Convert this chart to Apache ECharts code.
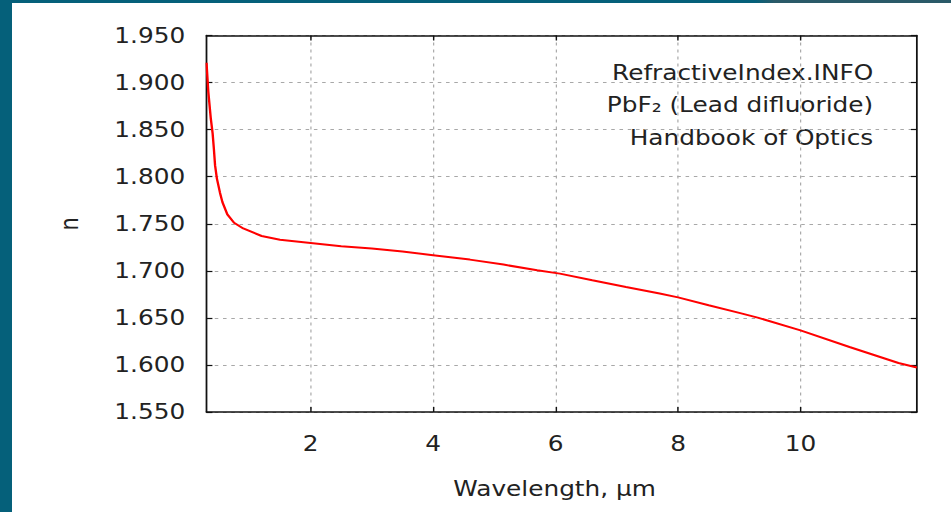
<!DOCTYPE html>
<html>
<head>
<meta charset="utf-8">
<script src="https://cdn.jsdelivr.net/npm/echarts@6/dist/echarts.min.js"></script>
<style>
html,body{margin:0;padding:0;background:#fff;overflow:hidden;width:951px;height:512px;}
#frameLeft{position:absolute;left:0;top:0;width:12px;height:512px;background:#05607a;z-index:3;}
#frameTop{position:absolute;left:0;top:0;width:951px;height:3px;z-index:3;
  background:linear-gradient(to right,#05607a 0,#05607a 755px,#2a5a68 775px,#2a5a68 100%);}
#chart{position:absolute;left:0;top:0;width:806px;height:512px;transform:scaleX(1.18);transform-origin:0 0;}
</style>
</head>
<body>
<div id="frameLeft"></div>
<div id="frameTop"></div>
<div id="chart"></div>
<script>
// Wavelength (µm) and refractive index n
const wavelength = [0.30, 0.33, 0.37, 0.40, 0.42, 0.44, 0.47, 0.52, 0.56, 0.64, 0.75, 0.90, 1.2, 1.5, 2.0, 2.5, 3.0, 3.5, 4.0, 4.6, 5.15, 5.7, 6.07, 6.6, 7.15, 7.7, 8.0, 8.5, 9.0, 9.3, 10.0, 10.8, 11.6, 11.9];
const nValues   = [1.921, 1.890, 1.862, 1.846, 1.830, 1.812, 1.798, 1.783, 1.773, 1.760, 1.751, 1.745, 1.737, 1.733, 1.7296, 1.7260, 1.7236, 1.7205, 1.7166, 1.7119, 1.7066, 1.7005, 1.6970, 1.6899, 1.6828, 1.6758, 1.6718, 1.6634, 1.6553, 1.6503, 1.6367, 1.6191, 1.6021, 1.5972];
const xTicks = [2, 4, 6, 8, 10];
const yMin = 1.55, yMax = 1.95, yStep = 0.05;
const xMin = 0.3, xMax = 11.9;
const annotation = ['RefractiveIndex.INFO', 'PbF\u2082 (Lead difluoride)', 'Handbook of Optics'];
const xName = 'Wavelength, \u00b5m';
const yName = 'n';

const FONT = 'DejaVu Sans';
const chart = echarts.init(document.getElementById('chart'), null, {renderer: 'svg'});
const seriesData = wavelength.map((w, i) => [w, nValues[i]]);
const axisLineStyle = {show: true, onZero: false, lineStyle: {color: '#111', width: 1.5}};
const gridLine = {show: true, lineStyle: {color: '#a8a8a8', width: 1, type: [3, 4]}};

chart.setOption({
  animation: false,
  backgroundColor: 'transparent',
  grid: {left: 175, right: 29, top: 35.5, bottom: 100, containLabel: false},
  xAxis: [{
    type: 'value', min: xMin, max: xMax, position: 'bottom',
    axisLine: axisLineStyle,
    axisTick: {show: true, inside: true, length: 5, customValues: xTicks, lineStyle: {color: '#111', width: 1.2}},
    axisLabel: {show: true, customValues: xTicks, margin: 21, color: '#222', fontFamily: FONT, fontSize: 21},
    splitLine: gridLine,
    name: xName, nameLocation: 'middle', nameGap: 66,
    nameTextStyle: {color: '#222', fontFamily: FONT, fontSize: 21, padding: [0, 12, 0, 0]}
  }, {
    type: 'value', min: xMin, max: xMax, position: 'top',
    axisLine: axisLineStyle,
    axisTick: {show: true, inside: true, length: 5, customValues: xTicks, lineStyle: {color: '#111', width: 1.2}},
    axisLabel: {show: false},
    splitLine: {show: false}
  }],
  yAxis: [{
    type: 'value', min: yMin, max: yMax, interval: yStep, position: 'left',
    axisLine: axisLineStyle,
    axisTick: {show: true, inside: true, length: 5, lineStyle: {color: '#111', width: 1.2}},
    axisLabel: {margin: 18, color: '#222', fontFamily: FONT, fontSize: 21, formatter: v => v.toFixed(3)},
    splitLine: gridLine,
    name: yName, nameLocation: 'middle', nameGap: 106, nameRotate: 90,
    nameTextStyle: {color: '#222', fontFamily: FONT, fontSize: 21}
  }, {
    type: 'value', min: yMin, max: yMax, interval: yStep, position: 'right',
    axisLine: axisLineStyle,
    axisTick: {show: true, inside: true, length: 5, lineStyle: {color: '#111', width: 1.2}},
    axisLabel: {show: false},
    splitLine: {show: false}
  }],
  graphic: annotation.map((t, i) => ({
    type: 'text', right: 806 - 740, top: 62 + i * 32.5,
    style: {text: t, fill: '#222', font: '21px "DejaVu Sans"', textAlign: 'right'}
  })),
  series: [{
    type: 'line', xAxisIndex: 0, yAxisIndex: 0, data: seriesData,
    showSymbol: false, smooth: false, silent: true,
    lineStyle: {color: '#ff0000', width: 2}
  }]
});
</script>
</body>
</html>
